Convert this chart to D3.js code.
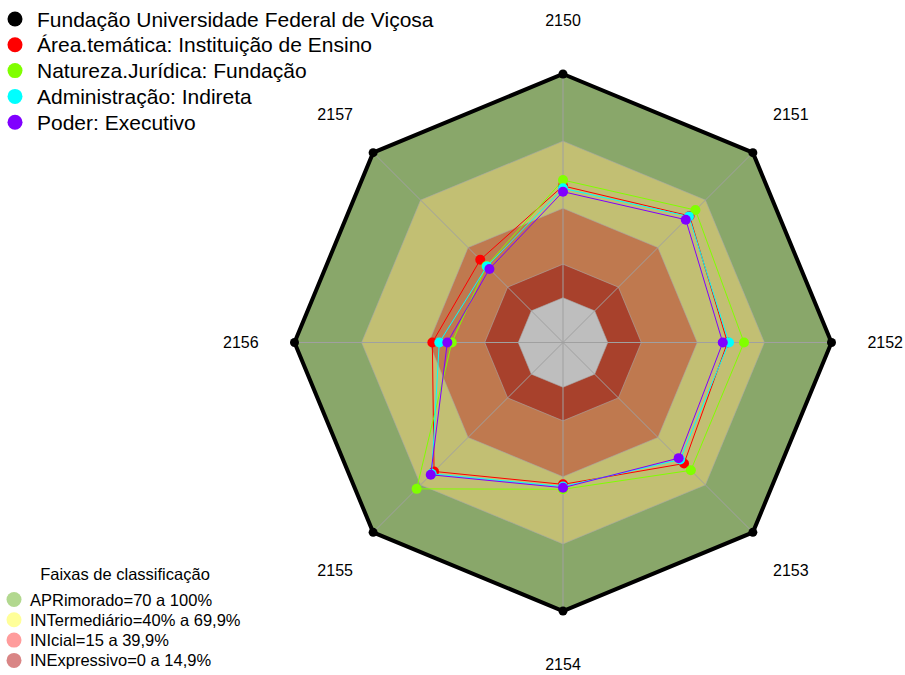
<!DOCTYPE html>
<html>
<head>
<meta charset="utf-8">
<script src="https://cdn.jsdelivr.net/npm/d3@7"></script>
<style>
  body { margin: 0; background: #fff; }
  text { font-family: "Liberation Sans", Arial, sans-serif; }
</style>
</head>
<body>
<script>
var axes = ["2150", "2151", "2152", "2153", "2154", "2155", "2156", "2157"];
var seriesNames = [
  "Fundação Universidade Federal de Viçosa",
  "Área.temática: Instituição de Ensino",
  "Natureza.Jurídica: Fundação",
  "Administração: Indireta",
  "Poder: Executivo"
];
var seriesColors = ["#000000", "#FF0000", "#80FF00", "#00FFFF", "#8000FF"];
var ufv = [100, 100, 100, 100, 100, 100, 100, 100];
var areaTematica = [50, 60, 53.5, 56.5, 43.4, 61.5, 38.4, 32.3];
var naturezaJuridica = [52.6, 63.7, 60.9, 60.8, 45.6, 72.5, 29.7, 28.4];
var administracao = [48.9, 59.6, 54.2, 54, 44.4, 63, 35.3, 28.1];
var poderExecutivo = [47.4, 57.6, 51.4, 53.1, 44.9, 63.6, 31.7, 26.5];
var seriesValues = [ufv, areaTematica, naturezaJuridica, administracao, poderExecutivo];

var bandLimits = [100, 70, 40, 15, 0];
var bandColors = ["#89A76A", "#C2BF73", "#BF794F", "#A8412C", "#BEBEBE"];
var faixasTitle = "Faixas de classificação";
var faixasLabels = ["APRimorado=70 a 100%", "INTermediário=40% a 69,9%", "INIcial=15 a 39,9%", "INExpressivo=0 a 14,9%"];
var faixasColors = ["#B2D88F", "#FFFF99", "#FF9C9C", "#D98585"];

var w = 905, h = 675;
var cx = 563, cy = 342.5, R = 268.5;

var svg = d3.select("body").append("svg")
  .attr("width", w)
  .attr("height", h);

// centerzero = FALSE style offset: value 0 sits at R/6
var r = d3.scaleLinear().domain([0, 100]).range([R / 6, R]);
var angle = d3.scalePoint().domain(axes).range([0, 2 * Math.PI * 7 / 8]);

function pt(axis, rad) {
  var a = angle(axis) - Math.PI / 2;
  return [cx + rad * Math.cos(a), cy + rad * Math.sin(a)];
}
var polyLine = d3.line().curve(d3.curveLinearClosed);

// bands
svg.append("g").selectAll("path")
  .data(bandLimits)
  .enter().append("path")
  .attr("d", function(v) { return polyLine(axes.map(function(a) { return pt(a, r(v)); })); })
  .attr("fill", function(v, i) { return bandColors[i]; })
  .attr("stroke", "#A8A8A8")
  .attr("stroke-opacity", 0.6)
  .attr("stroke-width", 1);

// radial grid
svg.append("g").selectAll("line")
  .data(axes)
  .enter().append("line")
  .attr("x1", cx).attr("y1", cy)
  .attr("x2", function(a) { return pt(a, R)[0]; })
  .attr("y2", function(a) { return pt(a, R)[1]; })
  .attr("stroke", "#A0A0A0")
  .attr("stroke-width", 1);

// axis labels
svg.append("g").selectAll("text")
  .data(axes)
  .enter().append("text")
  .attr("x", function(a) { return pt(a, R * 1.2)[0]; })
  .attr("y", function(a) { return pt(a, R * 1.2)[1]; })
  .attr("text-anchor", "middle")
  .attr("dominant-baseline", "central")
  .attr("font-size", 16)
  .text(function(a) { return a; });

// series
var sg = svg.append("g").selectAll("g")
  .data(seriesValues)
  .enter().append("g");

sg.append("path")
  .attr("d", function(vals) { return polyLine(axes.map(function(a, i) { return pt(a, r(vals[i])); })); })
  .attr("fill", "none")
  .attr("stroke", function(d, i) { return seriesColors[i]; })
  .attr("stroke-width", function(d, i) { return i === 0 ? 4 : 1; })
  .attr("stroke-linejoin", "miter");

sg.each(function(vals, si) {
  d3.select(this).selectAll("circle")
    .data(vals)
    .enter().append("circle")
    .attr("cx", function(v, i) { return pt(axes[i], r(v))[0]; })
    .attr("cy", function(v, i) { return pt(axes[i], r(v))[1]; })
    .attr("r", si === 0 ? 4.5 : 5)
    .attr("fill", seriesColors[si]);
});

// series legend
var leg = svg.append("g").selectAll("g")
  .data(seriesNames)
  .enter().append("g")
  .attr("transform", function(d, i) { return "translate(15," + (19 + i * 25.8) + ")"; });
leg.append("circle").attr("r", 7.5).attr("fill", function(d, i) { return seriesColors[i]; });
leg.append("text")
  .attr("x", 22)
  .attr("dominant-baseline", "central")
  .attr("font-size", 21)
  .text(function(d) { return d; });

// bands legend
svg.append("text")
  .attr("x", 125).attr("y", 574)
  .attr("text-anchor", "middle")
  .attr("dominant-baseline", "central")
  .attr("font-size", 16.5)
  .text(faixasTitle);
var fl = svg.append("g").selectAll("g")
  .data(faixasLabels)
  .enter().append("g")
  .attr("transform", function(d, i) { return "translate(14," + (599.5 + i * 20.3) + ")"; });
fl.append("circle").attr("r", 7.5).attr("fill", function(d, i) { return faixasColors[i]; });
fl.append("text")
  .attr("x", 16)
  .attr("dominant-baseline", "central")
  .attr("font-size", 16.5)
  .text(function(d) { return d; });
</script>
</body>
</html>
